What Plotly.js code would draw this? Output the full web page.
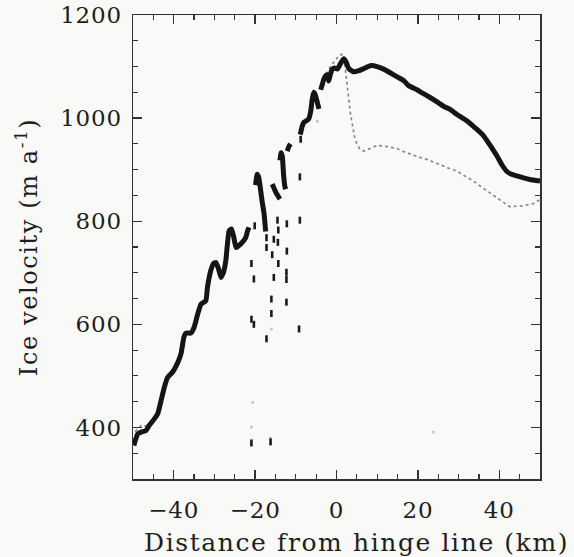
<!DOCTYPE html>
<html>
<head>
<meta charset="utf-8">
<script src="https://cdn.plot.ly/plotly-3.0.1.min.js"></script>
<style>
  html, body { margin: 0; padding: 0; background: #f9f9f8; }
  #chart { width: 574px; height: 557px; }
  .xtick text, .ytick text { letter-spacing: 0.8px; }
  .annotation-text { letter-spacing: 1.6px; }
</style>
</head>
<body>
<div id="chart"></div>
<script>
// Thick (dark) velocity profile; null separates the broken segments
const thickDist = [
  -49.8, -49.3, -48.8, -48.0, -46.8, -46.0, -44.7, -43.9, -43.1, -42.3, -41.5, -40.3, -39.0, -38.2,
  -37.5, -37.0, -35.8, -35.0, -34.1, -33.3, -32.1, -31.7, -30.9, -30.2, -29.6, -29.0, -28.4, -27.8,
  -27.2, -26.4, -25.8, -25.2, -24.7, -23.5, -22.3, -21.9, -21.5,
  null,
  -19.9, -19.5, -19.1, -18.3, -17.8, -17.4,
  null,
  -15.8, -15.4, -14.9, -14.3, -13.9,
  null,
  -13.9, -13.6, -13.3, -13.0, -12.7, -12.5,
  null,
  -12.1, -11.7, -11.3,
  null,
  -8.9, -8.4, -8.0, -7.2, -6.8, -6.3, -6.0, -5.6, -5.2, -4.7, -4.3,
  null,
  -3.9, -3.5, -3.1, -2.7, -2.3, -1.9, -1.5, -1.1, -0.5, 0.2, 1.0, 1.8, 2.4, 3.0, 4.2, 5.5, 6.7,
  8.5, 10.0, 11.6, 13.2, 14.9, 16.5, 17.7, 19.8, 20.6, 23.0, 25.0, 26.3, 27.9, 29.6, 32.0, 34.5,
  36.1, 36.9, 38.2, 39.4, 40.6, 41.8, 43.0, 44.3, 46.0, 47.5, 50.0
];
const thickVel = [
  365, 378, 388, 391, 394, 404, 417, 427, 452, 478, 497, 507, 526, 543,
  575, 583, 583, 594, 620, 639, 646, 672, 704, 718, 720, 708, 691, 700,
  723, 781, 785, 768, 749, 756, 768, 780, 788,
  null,
  870, 891, 885, 840, 815, 780,
  null,
  872, 865, 856, 848, 843,
  null,
  918, 933, 925, 890, 868, 862,
  null,
  936, 945, 950,
  null,
  968, 985, 992, 996, 999, 1015, 1035, 1050, 1045, 1030, 1018,
  null,
  1055, 1065, 1076, 1082, 1084, 1072, 1085, 1094, 1097, 1095, 1106, 1115, 1108, 1096, 1090, 1092, 1096,
  1102, 1100, 1095, 1088, 1080, 1073, 1063, 1055, 1051, 1040, 1030, 1023, 1017, 1007, 995, 978,
  966, 957, 942, 927, 910, 897, 891, 888, 884, 881, 878
];

// Thin (grey, dotted) velocity profile
const thinDist = [
  -49.5, -48.5, -48.0, -47.3, -46.5, -45.5, -44.3,
  null,
  -2.5, -1.5, -0.5, 0.5, 1.2, 1.8, 2.3, 2.6, 2.8, 3.2, 3.5, 3.9, 4.2, 4.4, 5.0, 5.7, 6.7, 8.3,
  10.0, 11.5, 13.0, 14.9, 16.5, 18.1, 20.0, 22.2, 24.0, 25.5, 27.5, 29.6, 31.5, 33.6, 35.5, 37.7,
  39.5, 41.0, 42.6, 44.0, 45.9, 48.3, 50.0
];
const thinVel = [
  392, 400, 404, 402, 404, 412, 427,
  null,
  1085, 1100, 1110, 1120, 1124, 1118, 1085, 1065, 1040, 1020, 1004, 988, 975, 965, 950, 940, 936, 941,
  947, 946, 944, 941, 935, 930, 925, 920, 914, 910, 903, 897, 888, 878, 867, 855,
  845, 836, 828, 829, 830, 834, 842
];

// Isolated dark measurements
const spotDist = [
  -20.1, -20.9, -20.3, -17.2, -17.2, -15.8, -15.4, -14.5, -14.3, -15.4, -14.4, -14.3, -12.2, -12.2,
  -12.3, -12.3, -9.0, -9.0, -8.8, -16.0, -16.0, -12.3, -20.9, -20.3, -17.2, -9.2, -20.9, -16.2
];
const spotVel = [
  791, 718, 688, 768, 749, 735, 691, 802, 783, 765, 759, 718, 795, 742,
  701, 687, 886, 802, 959, 649, 621, 643, 610, 600, 572, 591, 370, 372
];

// Faint grey isolated measurements
const faintDist = [-20.6, -20.9, -16.0, 23.8, -16.3, -4.7];
const faintVel = [449, 401, 591, 391, 380, 994];

const xTicks = [-40, -20, 0, 20, 40];
const yTicks = [400, 600, 800, 1000, 1200];

const FONT = 'DejaVu Serif, Liberation Serif, serif';
const INK = '#1e1e1e';

const traces = [
  {
    x: thinDist, y: thinVel, type: 'scatter', mode: 'lines',
    line: { color: '#8a8a8a', width: 1.7, dash: 'dot' },
    connectgaps: false, hoverinfo: 'skip'
  },
  {
    x: faintDist, y: faintVel, type: 'scatter', mode: 'markers',
    marker: { symbol: 'circle', size: 3, color: '#c4c4c4' }, hoverinfo: 'skip'
  },
  {
    x: thickDist, y: thickVel, type: 'scatter', mode: 'lines',
    line: { color: '#151515', width: 5, shape: 'spline', smoothing: 0.4 },
    connectgaps: false, hoverinfo: 'skip'
  },
  {
    x: spotDist, y: spotVel, type: 'scatter', mode: 'markers',
    marker: { symbol: 'line-ns', size: 5, line: { width: 2.6, color: '#1a1a1a' } },
    hoverinfo: 'skip'
  }
];

const axisCommon = {
  showline: true, linecolor: '#333', linewidth: 1.5, mirror: 'allticks',
  ticks: 'inside', ticklen: 9, tickwidth: 1.3, tickcolor: '#333',
  showgrid: false, zeroline: false,
  tickfont: { family: FONT, size: 23, color: INK }
};

const layout = {
  width: 574, height: 557,
  margin: { l: 133, r: 34, t: 15, b: 78 },
  paper_bgcolor: '#f9f9f8', plot_bgcolor: '#f9f9f8',
  showlegend: false,
  xaxis: Object.assign({}, axisCommon, {
    range: [-50, 50], tickmode: 'array', tickvals: xTicks,
    minor: { dtick: 5, ticks: 'inside', ticklen: 5, tickwidth: 1.2, tickcolor: '#333' },
    ticklabelstandoff: 10
  }),
  yaxis: Object.assign({}, axisCommon, {
    range: [300, 1200], tickmode: 'array', tickvals: yTicks,
    minor: { dtick: 50, ticks: 'inside', ticklen: 5, tickwidth: 1.2, tickcolor: '#333' },
    ticklabelstandoff: 5
  }),
  annotations: [
    {
      text: 'Distance from hinge line (km)', xref: 'paper', yref: 'paper',
      x: 0.548, y: -0.136, xanchor: 'center', yanchor: 'middle', showarrow: false,
      font: { family: FONT, size: 25, color: INK }
    },
    {
      text: 'Ice velocity (m a<sup>-1</sup>)', xref: 'paper', yref: 'paper',
      x: -0.26, y: 0.5, xanchor: 'center', yanchor: 'middle', showarrow: false, textangle: -90,
      font: { family: FONT, size: 24, color: INK }
    }
  ]
};

Plotly.newPlot('chart', traces, layout, { staticPlot: true, displayModeBar: false }).then(function () {
  var tester = document.getElementById('js-plotly-tester');
  if (tester) tester.remove();
  document.querySelectorAll('#chart text').forEach(function (t) {
    if (!t.textContent.trim()) t.remove();
  });
});
</script>
</body>
</html>
